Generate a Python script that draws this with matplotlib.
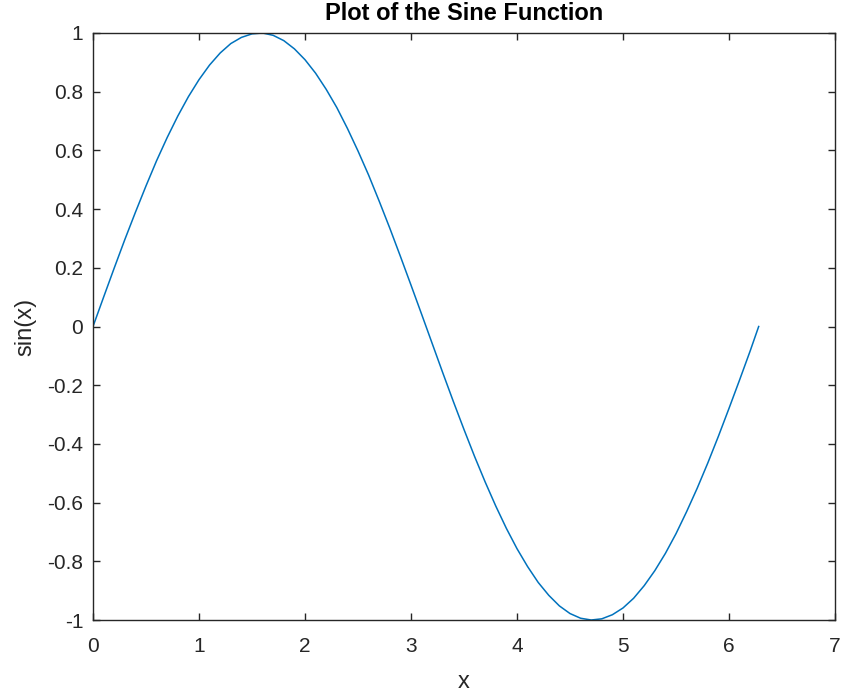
import matplotlib
matplotlib.use("Agg")
import matplotlib.pyplot as plt

# values
x = [0.0, 0.1, 0.2, 0.3, 0.4, 0.5, 0.6, 0.7, 0.8, 0.9,
     1.0, 1.1, 1.2, 1.3, 1.4, 1.5, 1.6, 1.7, 1.8, 1.9,
     2.0, 2.1, 2.2, 2.3, 2.4, 2.5, 2.6, 2.7, 2.8, 2.9,
     3.0, 3.1, 3.2, 3.3, 3.4, 3.5, 3.6, 3.7, 3.8, 3.9,
     4.0, 4.1, 4.2, 4.3, 4.4, 4.5, 4.6, 4.7, 4.8, 4.9,
     5.0, 5.1, 5.2, 5.3, 5.4, 5.5, 5.6, 5.7, 5.8, 5.9,
     6.0, 6.1, 6.2, 6.28]
y = [0.000, 0.100, 0.199, 0.296, 0.389, 0.479, 0.565, 0.644, 0.717, 0.783,
     0.841, 0.891, 0.932, 0.964, 0.985, 0.997, 1.000, 0.992, 0.974, 0.946,
     0.909, 0.863, 0.808, 0.746, 0.675, 0.598, 0.516, 0.427, 0.335, 0.239,
     0.141, 0.042, -0.058, -0.158, -0.256, -0.351, -0.443, -0.530, -0.612, -0.688,
     -0.757, -0.818, -0.872, -0.916, -0.952, -0.978, -0.994, -1.000, -0.996, -0.982,
     -0.959, -0.926, -0.883, -0.832, -0.773, -0.706, -0.631, -0.551, -0.465, -0.374,
     -0.279, -0.182, -0.083, 0.000]

xticks = [0, 1, 2, 3, 4, 5, 6, 7]
yticks = [-1, -0.8, -0.6, -0.4, -0.2, 0, 0.2, 0.4, 0.6, 0.8, 1]
ytick_labels = ['-1', '-0.8', '-0.6', '-0.4', '-0.2', '0', '0.2', '0.4', '0.6', '0.8', '1']

plt.rcParams['font.family'] = ['Liberation Sans', 'DejaVu Sans']
dark = '#262626'

fig = plt.figure(figsize=(8.59, 6.97), dpi=100)
ax = fig.add_axes([93 / 859, 1 - 620 / 697, 742 / 859, 587 / 697])

ax.plot(x, y, color='#0072BD', lw=1.1)

ax.set_xlim(0, 7)
ax.set_ylim(-1, 1)
ax.set_xticks(xticks)
ax.set_xticklabels([str(t) for t in xticks])
ax.set_yticks(yticks)
ax.set_yticklabels(ytick_labels)

ax.tick_params(direction='in', top=True, right=True, length=5, width=1.0,
               colors=dark, labelsize=15)
ax.tick_params(axis='x', pad=12)
ax.tick_params(axis='y', pad=7)
for s in ax.spines.values():
    s.set_color(dark)
    s.set_linewidth(1.0)

ax.set_title('Plot of the Sine Function', fontsize=17, fontweight='bold',
             color='black', pad=9)
ax.set_xlabel('x', fontsize=17, color=dark, labelpad=11)
ax.set_ylabel('sin(x)', fontsize=17, color=dark, labelpad=8)

plt.savefig('out.png', dpi=100)
